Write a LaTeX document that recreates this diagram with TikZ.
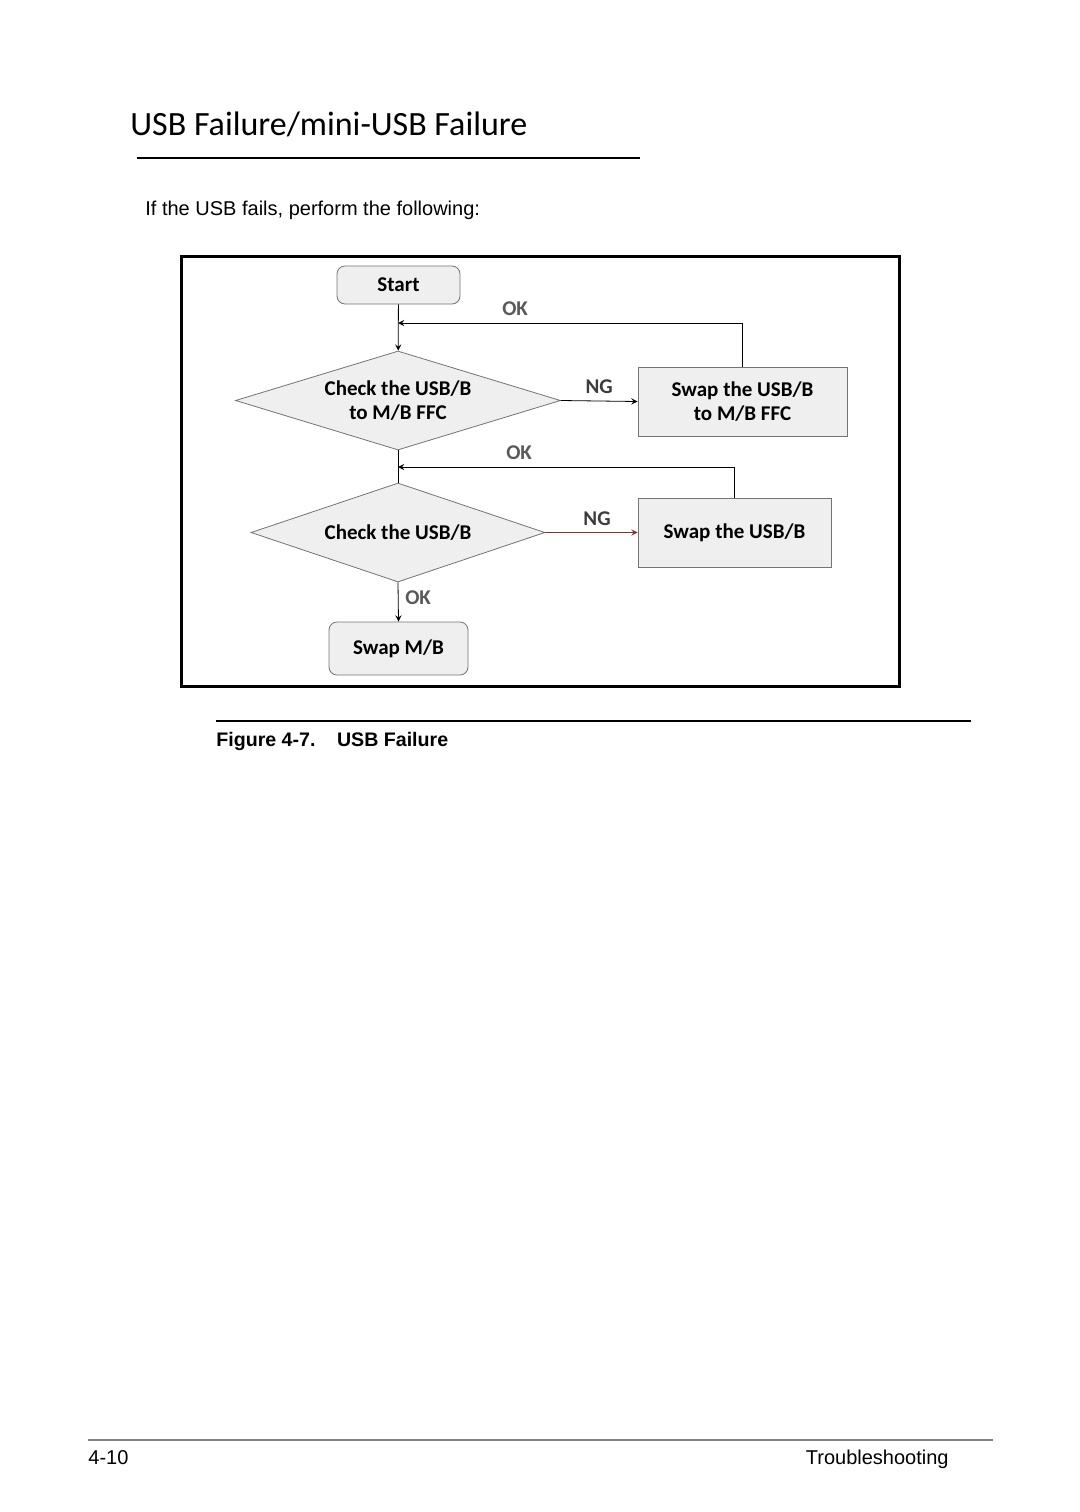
\documentclass[tikz,border=0pt]{standalone}
\usepackage{fontspec}
\setmainfont{Liberation Sans}
\newfontfamily\calibri{Carlito}
\usetikzlibrary{arrows,shapes,positioning}
\definecolor{boxgray}{RGB}{239,239,239}
\definecolor{linegray}{RGB}{115,115,115}
\definecolor{okgray}{RGB}{89,89,89}
\definecolor{nggray}{RGB}{60,60,60}
\definecolor{ngred}{RGB}{130,50,50}
\tikzstyle{terminal} = [rectangle, rounded corners=4pt, text centered, draw=linegray, fill=boxgray, font=\calibri\bfseries\fontsize{10.5}{12}\selectfont]
\tikzstyle{process} = [rectangle, text centered, align=center, draw=linegray, fill=boxgray, font=\calibri\bfseries\fontsize{10.5}{12}\selectfont]
\tikzstyle{decision} = [diamond, inner sep=0pt, text centered, align=center, draw=linegray, fill=boxgray, font=\calibri\bfseries\fontsize{10.5}{12}\selectfont]
\tikzstyle{arrow} = [->,>=stealth,color=black]
\tikzstyle{oklabel} = [text=okgray, font=\calibri\bfseries\fontsize{10.5}{12}\selectfont]
\tikzstyle{nglabel} = [text=nggray, font=\calibri\bfseries\fontsize{10.5}{12}\selectfont]

\begin{document}
\begin{tikzpicture}[x=0.5pt,y=-0.5pt]
\useasboundingbox (0,0) rectangle (1080,1512);

% page head
\node[anchor=base west, inner sep=0pt, font=\calibri\fontsize{17}{20}\selectfont] (title) at (130,135) {USB Failure/mini-USB Failure};
\draw[line width=1pt] (137,158) -- (640,158);
\node[anchor=base west, inner sep=0pt, font=\fontsize{10}{12}\selectfont] (intro) at (145,215) {If the USB fails, perform the following:};

% flow chart
\draw[line width=1.5pt] (181,256) rectangle (899,686);
\node[terminal, minimum width=61.5pt, minimum height=19pt] (start) at (398.5,285) {Start};
\node[decision, shape aspect=3.28, minimum width=162.5pt, minimum height=49.5pt] (chkffc) at (398,400.5) {Check the USB/B\\to M/B FFC};
\node[process, minimum width=104.5pt, minimum height=34.5pt] (swapffc) at (742.5,401.5) {Swap the USB/B\\to M/B FFC};
\node[decision, shape aspect=2.97, minimum width=147pt, minimum height=49.5pt] (chkusb) at (398,532.5) {Check the USB/B};
\node[process, minimum width=96.5pt, minimum height=34.5pt] (swapusb) at (734.5,532.5) {Swap the USB/B};
\node[terminal, minimum width=69.5pt, minimum height=26.5pt] (swapmb) at (398.5,648.5) {Swap M/B};
\coordinate (join1) at (398,323);
\coordinate (join2) at (398,467);

\draw[arrow] (start) -- (chkffc);
\draw[arrow] (swapffc.north) |- node[oklabel, above, pos=0.83]{OK} (join1);
\draw[arrow] (chkffc.east) -- node[nglabel, above]{NG} (swapffc.west);
\draw (chkffc.south) -- (chkusb.north);
\draw[arrow] (swapusb.north) |- node[oklabel, above, pos=0.82]{OK} (join2);
\draw[arrow, color=ngred] (chkusb.east) -- node[nglabel, above, pos=0.56]{NG} (swapusb.west);
\draw[arrow] (chkusb.south) -- node[oklabel, right, pos=0.38]{OK} (swapmb.north);

% caption
\draw[line width=0.6pt] (216,721) -- (971,721);
\node[anchor=base west, inner sep=0pt, font=\bfseries\fontsize{9.8}{12}\selectfont] (caption) at (216,746) {Figure 4-7.\hspace{1.1em}USB Failure};

% page foot
\draw[line width=1pt, color=gray] (88,1440) -- (993,1440);
\node[anchor=base west, inner sep=0pt, font=\fontsize{10}{12}\selectfont] (pagenum) at (88,1464) {4-10};
\node[anchor=base east, inner sep=0pt, font=\fontsize{10}{12}\selectfont] (chapter) at (949,1464) {Troubleshooting};
\end{tikzpicture}
\end{document}
